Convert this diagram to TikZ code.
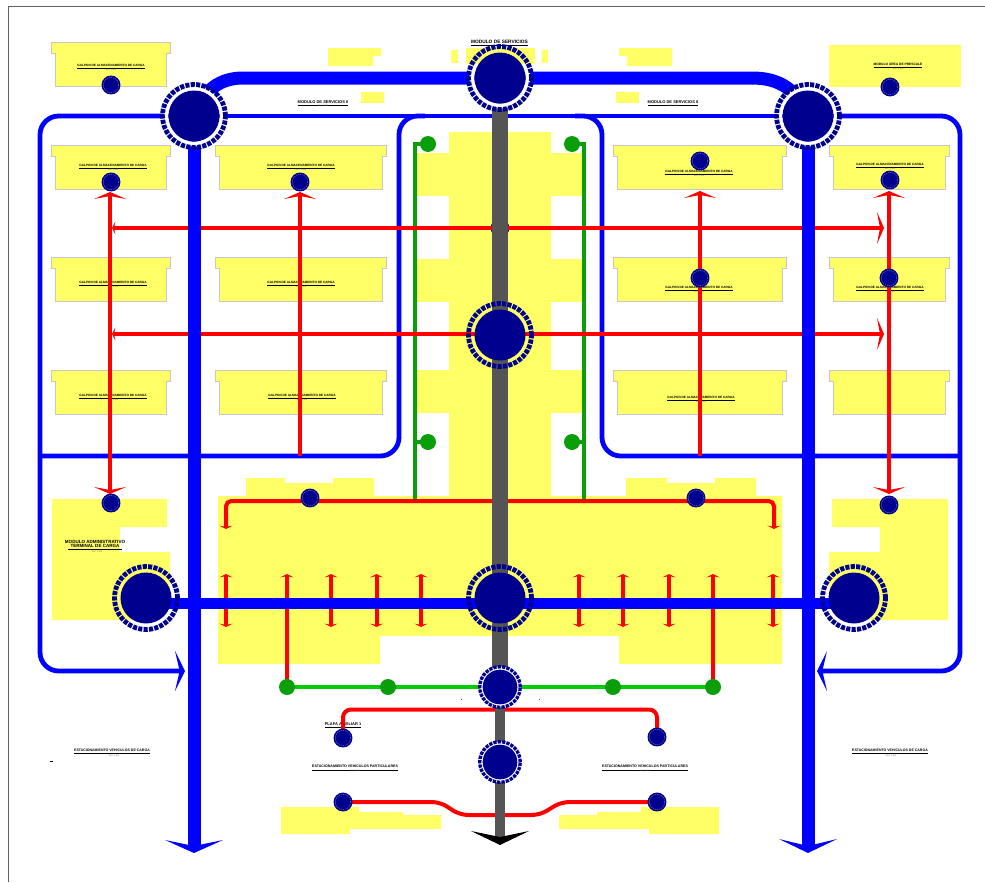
\documentclass[tikz,border=0pt]{standalone}
\usepackage{fontspec}
\setmainfont{Liberation Sans}
\usetikzlibrary{arrows.meta}
\definecolor{hallyellow}{HTML}{FFFF66}
\definecolor{hallgray}{HTML}{C8C8C8}
\definecolor{hubnavy}{HTML}{00008F}
\definecolor{mainblue}{HTML}{0000FF}
\definecolor{mainred}{HTML}{FF0000}
\definecolor{darkgreen}{HTML}{0A9F0A}
\definecolor{brightgreen}{HTML}{00CC00}
\definecolor{roadgray}{HTML}{555555}
\definecolor{framegray}{HTML}{606060}
\pgfdeclarelayer{yellowlayer}
\pgfdeclarelayer{labellayer}
\pgfdeclarelayer{thinlayer}
\pgfdeclarelayer{redlayer}
\pgfdeclarelayer{thicklayer}
\pgfdeclarelayer{greylayer}
\pgfsetlayers{yellowlayer,thinlayer,labellayer,redlayer,thicklayer,greylayer,main}
\newcommand{\subfont}{\fontsize{1.5pt}{1.8pt}\selectfont}
\tikzset{
  x=0.75pt,y=-0.75pt,
  plain/.style={fill=hallyellow,draw=none},
  hall/.style={fill=hallyellow,draw=hallgray,line width=0.75pt},
  hubdisc/.style={circle,fill=hubnavy,draw=none,minimum size=38.25pt,inner sep=0pt},
  hubring/.style={draw=hubnavy,line width=3.6pt,dash pattern=on 3.1pt off 0.95pt},
  hubgap/.style={draw=white,line width=3.6pt},
  lowdisc/.style={circle,fill=hubnavy,draw=none,minimum size=26pt,inner sep=0pt},
  lowring/.style={draw=hubnavy,line width=2.5pt,dash pattern=on 2.5pt off 0.8pt},
  smalldisc/.style={circle,fill=hubnavy,draw=none,minimum size=14.2pt,inner sep=0pt},
  smallring/.style={draw=white,draw opacity=.45,line width=0.3pt,dash pattern=on 1pt off 0.6pt},
  greendot/.style={circle,fill=darkgreen,draw=none,minimum size=12pt,inner sep=0pt},
  labsize/.style={font=\fontsize{#1pt}{#1pt}\selectfont\bfseries,inner sep=0pt,text=black},
  sublab/.style={font=\subfont,inner sep=0pt,text=black!60},
  thinblue/.style={draw=mainblue,line width=3.6pt,rounded corners=14pt},
  thickblue/.style={draw=mainblue,line width=9.75pt},
  midblue/.style={draw=mainblue,line width=8pt},
  redline/.style={draw=mainred,line width=3pt},
  greenv/.style={draw=darkgreen,line width=2.6pt},
  greenh/.style={draw=brightgreen,line width=3pt},
  bigred/.style={-{Stealth[length=5.25pt,width=24pt,inset=2.25pt]}},
  smallred/.style={-{Stealth[length=2.6pt,width=10pt,inset=1.2pt]}},
  bothred/.style={{Stealth[length=2.6pt,width=10pt,inset=1.2pt]}-{Stealth[length=2.6pt,width=10pt,inset=1.2pt]}},
  bothbig/.style={{Stealth[length=5.25pt,width=24pt,inset=2.25pt]}-{Stealth[length=5.25pt,width=24pt,inset=2.25pt]}},
  smallbig/.style={{Stealth[length=2.6pt,width=10pt,inset=1.2pt]}-{Stealth[length=5.25pt,width=24pt,inset=2.25pt]}},
  thinhead/.style={-{Stealth[length=7.5pt,width=30pt,inset=3.5pt]}},
}
\begin{document}
\begin{tikzpicture}
\useasboundingbox (0,0) rectangle (985,882);
\draw[framegray,line width=1pt] (8.5,882) -- (8.5,6.5) -- (985,6.5);

% ---- hubs, dots (main layer)
\foreach \n/\x/\y in {A/194/116,E/808/116}{
  \draw[hubgap] (\x,\y) circle [radius=21pt];
  \node[hubdisc] (\n) at (\x,\y) {};
  \draw[hubring] (\n.center) circle [radius=23.6pt];
}
\draw[hubgap] (500,78) circle [radius=21pt];
\begin{scope}
  \clip (500,78) circle [radius=22.5pt];
  \fill[hallyellow] (466,48) rectangle (535,64);
\end{scope}
\node[hubdisc] (B) at (500,78) {};
\draw[hubring] (B.center) circle [radius=23.6pt];
\foreach \n/\x/\y in {F/500/335,G/500/598,D/146/598,H/854/598}{
  \node[hubdisc] (\n) at (\x,\y) {};
  \draw[hubring] (\n.center) circle [radius=23.6pt];
}
\foreach \n/\x/\y in {I/500/687,J/500/762}{
  \draw[draw=white,line width=3.2pt] (\x,\y) circle [radius=13.8pt];
  \node[lowdisc] (\n) at (\x,\y) {};
  \draw[lowring] (\n.center) circle [radius=15.2pt];
}
\foreach \n/\x/\y in {s1/111/85,s2/111/182,s3/300/182,s4/700/161,s5/890/180,s6/700/278,s7/889/278,s8/111/503,s9/310/498,s10/696/498,s11/889/505,s12/890/87,s13/343/738,s14/657/737,s15/343/802,s16/657/802}{
  \node[smalldisc] (\n) at (\x,\y) {};
  \draw[smallring] (\n.center) circle [radius=5.8pt];
}
\foreach \n/\x/\y in {g1/428/144,g2/428/442,g3/572/144,g4/572/442,g5/287/687,g6/388/687,g7/613/687,g8/713/687}{
  \node[greendot] (\n) at (\x,\y) {};
}

% ---- free ends
\coordinate (bA) at (194,846);
\coordinate (bE) at (808,846);
\coordinate (bG) at (500,838);
\coordinate (tL) at (185,671);
\coordinate (tR) at (817,671);
\coordinate (rA) at (110,192);
\coordinate (rB) at (110,494);
\coordinate (rC) at (300,192);
\coordinate (rD) at (300,456);
\coordinate (rE) at (700,191);
\coordinate (rF) at (700,456);
\coordinate (rG) at (889,191);
\coordinate (rH) at (889,494);
\coordinate (hAl) at (112,228);
\coordinate (hAr) at (884,228);
\coordinate (hBl) at (112,334);
\coordinate (hBr) at (884,334);
\coordinate (rkL) at (226,529);
\coordinate (rkR) at (774,529);
\coordinate (gTopL) at (415,144);
\coordinate (gBotL) at (415,501);
\coordinate (gTopR) at (584,144);
\coordinate (gBotR) at (584,501);
\coordinate (mL) at (146,603.5);
\coordinate (mR) at (854,603.5);

% ---- yellow buildings
\begin{pgfonlayer}{yellowlayer}
\foreach \a/\b/\c in {51/170/42,51/170/145,215/386/145,613/786/145,829/949/145,51/170/257,215/386/257,613/786/257,829/949/257,51/170/370,215/386/370,613/786/370,829/949/370}{
  \draw[hall] (\a,\c) -- (\b,\c) -- (\b,\c+11) -- (\b-3.5,\c+11) -- (\b-3.5,\c+44) -- (\a+4,\c+44) -- (\a+4,\c+11) -- (\a,\c+11) -- cycle;
}
\fill[plain] (829,45) rectangle (961,87);
\fill[plain] (328,48) -- (381,48) -- (381,56) -- (373,56) -- (373,66) -- (328,66) -- cycle;
\fill[plain] (361,92) rectangle (384,103);
\fill[plain] (466,48) rectangle (535,64);
\fill[plain] (451,50) rectangle (458,63);
\fill[plain] (542,50) rectangle (548,63);
\fill[plain] (619,48) -- (672,48) -- (672,66) -- (627,66) -- (627,56) -- (619,56) -- cycle;
\fill[plain] (616,92) rectangle (639,103);
% central strip
\fill[plain] (449,132) rectangle (551,500);
\foreach \p/\q in {153/196,259/302,370/413}{
  \fill[plain] (417,\p) rectangle (584,\q);
}
% large terminal block
\fill[plain] (218,496) -- (246,496) -- (246,478) -- (285,478) -- (285,483) -- (333,483) -- (333,478) -- (374,478) -- (374,496)
  -- (626,496) -- (626,478) -- (667,478) -- (667,483) -- (715,483) -- (715,478) -- (756,478) -- (756,496) -- (782,496)
  -- (782,664) -- (619,664) -- (619,636) -- (380,636) -- (380,664) -- (218,664) -- cycle;
% administrative blocks
\fill[plain] (52,499) -- (167,499) -- (167,527) -- (120,527) -- (120,552) -- (170,552) -- (170,600) -- (146,620) -- (52,620) -- cycle;
\fill[plain] (832,499) -- (948,499) -- (948,620) -- (854,620) -- (829,600) -- (829,552) -- (880,552) -- (880,527) -- (832,527) -- cycle;
% parking blocks
\fill[plain] (281,807) -- (359,807) -- (359,812) -- (403,812) -- (403,815) -- (441,815) -- (441,829) -- (350,829) -- (350,834) -- (281,834) -- cycle;
\fill[plain] (719,807) -- (641,807) -- (641,812) -- (597,812) -- (597,815) -- (559,815) -- (559,829) -- (649,829) -- (649,834) -- (719,834) -- cycle;
\end{pgfonlayer}

% ---- labels
\begin{pgfonlayer}{labellayer}
\foreach \n/\x/\y in {la/111/66.5,lb/113/166.5,lc/301/166.5,ld/113/284,le/301/284,lf/113/397,lg/302/397,lh/699/173,li/890/166,lj/699/289,lk/890/289,ll/701/399}{
  \node[labsize=2.35] (\n) at (\x,\y) {\underline{GALPON DE ALMACENAMIENTO DE CARGA}};
  \node[sublab] at (\x,\y+3.2) {ESC. 1:500};
}
\node[labsize=3.6] (lm) at (499.5,43.5) {\underline{MODULO DE SERVICIOS}};
\node[labsize=3] (ln) at (323,103) {\underline{MODULO DE SERVICIOS II}};
\node[sublab] at (323,106) {ESC. 1:500};
\node[labsize=3] (lo) at (673,103) {\underline{MODULO DE SERVICIOS II}};
\node[sublab] at (673,106) {ESC. 1:500};
\node[labsize=2.45] (lp) at (898,66) {\underline{MODULO AREA DE PRESCALE}};
\node[sublab] at (898,69) {ESC. 1:500};
\node[labsize=3.4,align=center] (lq) at (95,545.5) {MODULO ADMINISTRATIVO\\[-0.4pt]\underline{\ \ TERMINAL DE CARGA\ \ }};
\node[sublab] at (97,551.5) {ESC. 1:500};
\node[labsize=2.65] (lr) at (112,751.5) {\underline{ESTACIONAMIENTO VEHICULOS DE CARGA}};
\node[sublab] at (114,756) {ESC. 1:500};
\node[labsize=2.65] (ls) at (890,751.5) {\underline{ESTACIONAMIENTO VEHICULOS DE CARGA}};
\node[sublab] at (891,756) {ESC. 1:500};
\node[labsize=2.7] (lt) at (355,768) {\underline{ESTACIONAMIENTO VEHICULOS PARTICULARES}};
\node[sublab] at (355,771) {ESC. 1:500};
\node[labsize=2.7] (lu) at (645,768) {\underline{ESTACIONAMIENTO VEHICULOS PARTICULARES}};
\node[sublab] at (645,771) {ESC. 1:500};
\node[labsize=3] (lv) at (343,725) {\underline{PLAFA AUXILIAR 1}};
\end{pgfonlayer}

% ---- thin blue loops and green lines
\begin{pgfonlayer}{thinlayer}
\draw[thinblue,thinhead] (A.center) -- (40,116) -- (40,671) -- (tL);
\draw[thinblue,thinhead] (E.center) -- (960,116) -- (960,671) -- (tR);
\draw[draw=mainblue,line width=3.6pt] (A.center) -- (E.center);
\draw[thinblue] (40,456) -- (399,456) -- (399,116) -- (425,116);
\draw[thinblue] (575,116) -- (602,116) -- (602,456) -- (960,456);
\draw[greenv] (g1.center) -- (gTopL) -- (gBotL);
\draw[greenv] (g2.center) -- (415,442);
\draw[greenv] (g3.center) -- (gTopR) -- (gBotR);
\draw[greenv] (g4.center) -- (584,442);
\draw[greenh] (g5.center) -- (g6.center) -- (I.center) -- (g7.center) -- (g8.center);
\end{pgfonlayer}

% ---- red service lines
\begin{pgfonlayer}{redlayer}
\node[circle,fill=hubnavy,minimum size=14pt,inner sep=0pt] (sX) at (500,228) {};
\draw[redline,bothbig] (rA) -- (rB);
\draw[redline,bigred] (rD) -- (rC);
\draw[redline,bigred] (rF) -- (rE);
\draw[redline,bothbig] (rG) -- (rH);
\draw[redline,smallbig] (hAl) -- (hAr);
\draw[redline,smallbig] (hBl) -- (hBr);
\draw[redline,bothred,rounded corners=4pt] (rkL) -- (226,501) -- (774,501) -- (rkR);
\foreach \x in {226,331,376.5,421,579,623,669,773}{
  \draw[redline,bothred] (\x,574) -- (\x,627);
}
\draw[redline,smallred] (g5.center) -- (287,574);
\draw[redline,smallred] (g8.center) -- (713,574);
\draw[redline,rounded corners=6pt] (s13.center) -- (343,709.5) -- (657,709.5) -- (s14.center);
\draw[redline,rounded corners=6pt] (s15.center) -- (440,802) -- (460,815) -- (540,815) -- (561,802) -- (s16.center);
\end{pgfonlayer}

% ---- thick blue roads
\begin{pgfonlayer}{thicklayer}
\draw[thickblue] (A.center) -- (bA);
\fill[mainblue] (165,840) -- (194,853) -- (223,840) -- (194,846) -- cycle;
\draw[thickblue] (E.center) -- (bE);
\fill[mainblue] (779,839) -- (808,853) -- (837,839) -- (808,846) -- cycle;
\draw[thickblue] (A.center) .. controls (203,90) and (220,78) .. (243,78) -- (752,78) .. controls (780,78) and (797,90) .. (E.center);
\draw[midblue] (mL) -- (mR);
\end{pgfonlayer}

% ---- central grey road
\begin{pgfonlayer}{greylayer}
\draw[draw=roadgray,line width=12.5pt] (B.center) -- (I.center);
\draw[draw=roadgray,line width=7.5pt] (I.center) -- (bG);
\fill[black] (471,831) -- (500,845) -- (529,831) -- (500,837) -- cycle;
\fill[framegray] (460.6,698.6) rectangle (461.4,699.4);
\fill[framegray] (538.6,698.6) rectangle (539.4,699.4);
\fill[black] (50,761) rectangle (53,761.8);
\end{pgfonlayer}
\end{tikzpicture}
\end{document}
